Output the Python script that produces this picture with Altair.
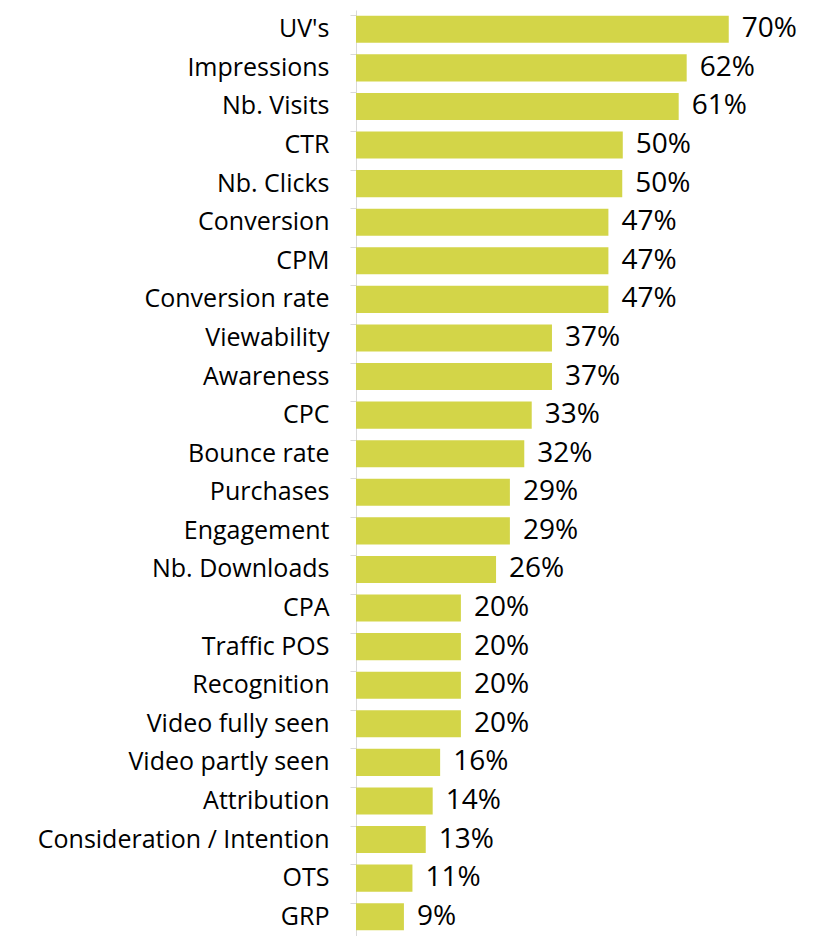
import altair as alt
import pandas as pd

categories = [
    "UV's", "Impressions", "Nb. Visits", "CTR", "Nb. Clicks", "Conversion", "CPM",
    "Conversion rate", "Viewability", "Awareness", "CPC", "Bounce rate", "Purchases",
    "Engagement", "Nb. Downloads", "CPA", "Traffic POS", "Recognition",
    "Video fully seen", "Video partly seen", "Attribution",
    "Consideration / Intention", "OTS", "GRP",
]
values = [70.0, 62.1, 60.6, 50.1, 50.0, 47.4, 47.4, 47.4, 36.8, 36.8, 33.0, 31.6,
          28.9, 28.9, 26.3, 19.7, 19.7, 19.7, 19.7, 15.8, 14.4, 13.1, 10.6, 9.0]

df = pd.DataFrame({"cat": categories, "val": values})

BAR = "#d3d548"
GRID = "#d9d9d9"

base = alt.Chart(df).encode(
    y=alt.Y(
        "cat:N",
        sort=None,
        title=None,
        scale=alt.Scale(paddingInner=0.3, paddingOuter=0.15),
        axis=alt.Axis(
            bandPosition=0,
            domainColor=GRID,
            tickColor=GRID,
            tickSize=6,
            labelFont="Open Sans",
            labelFontSize=25,
            labelColor="#000000",
            labelPadding=21,
            labelLimit=400,
            grid=False,
        ),
    ),
    x=alt.X("val:Q", scale=alt.Scale(domain=[0, 80]), axis=None),
)

bars = base.mark_bar(color=BAR)
labels = base.transform_calculate(
    lab="format(datum.val, '.0f') + '%'"
).mark_text(
    align="left", baseline="middle", dx=13, font="Open Sans", fontSize=28, color="#000000"
).encode(text="lab:N")

chart = (
    (bars + labels)
    .properties(
        width=426,
        height=926,
        autosize=alt.AutoSizeParams(type="none"),
        padding={"left": 348, "top": 2, "right": 30, "bottom": 0},
    )
    .configure_view(stroke=None)
)

chart.save("out.html", embed_options={"renderer": "svg", "actions": False})
